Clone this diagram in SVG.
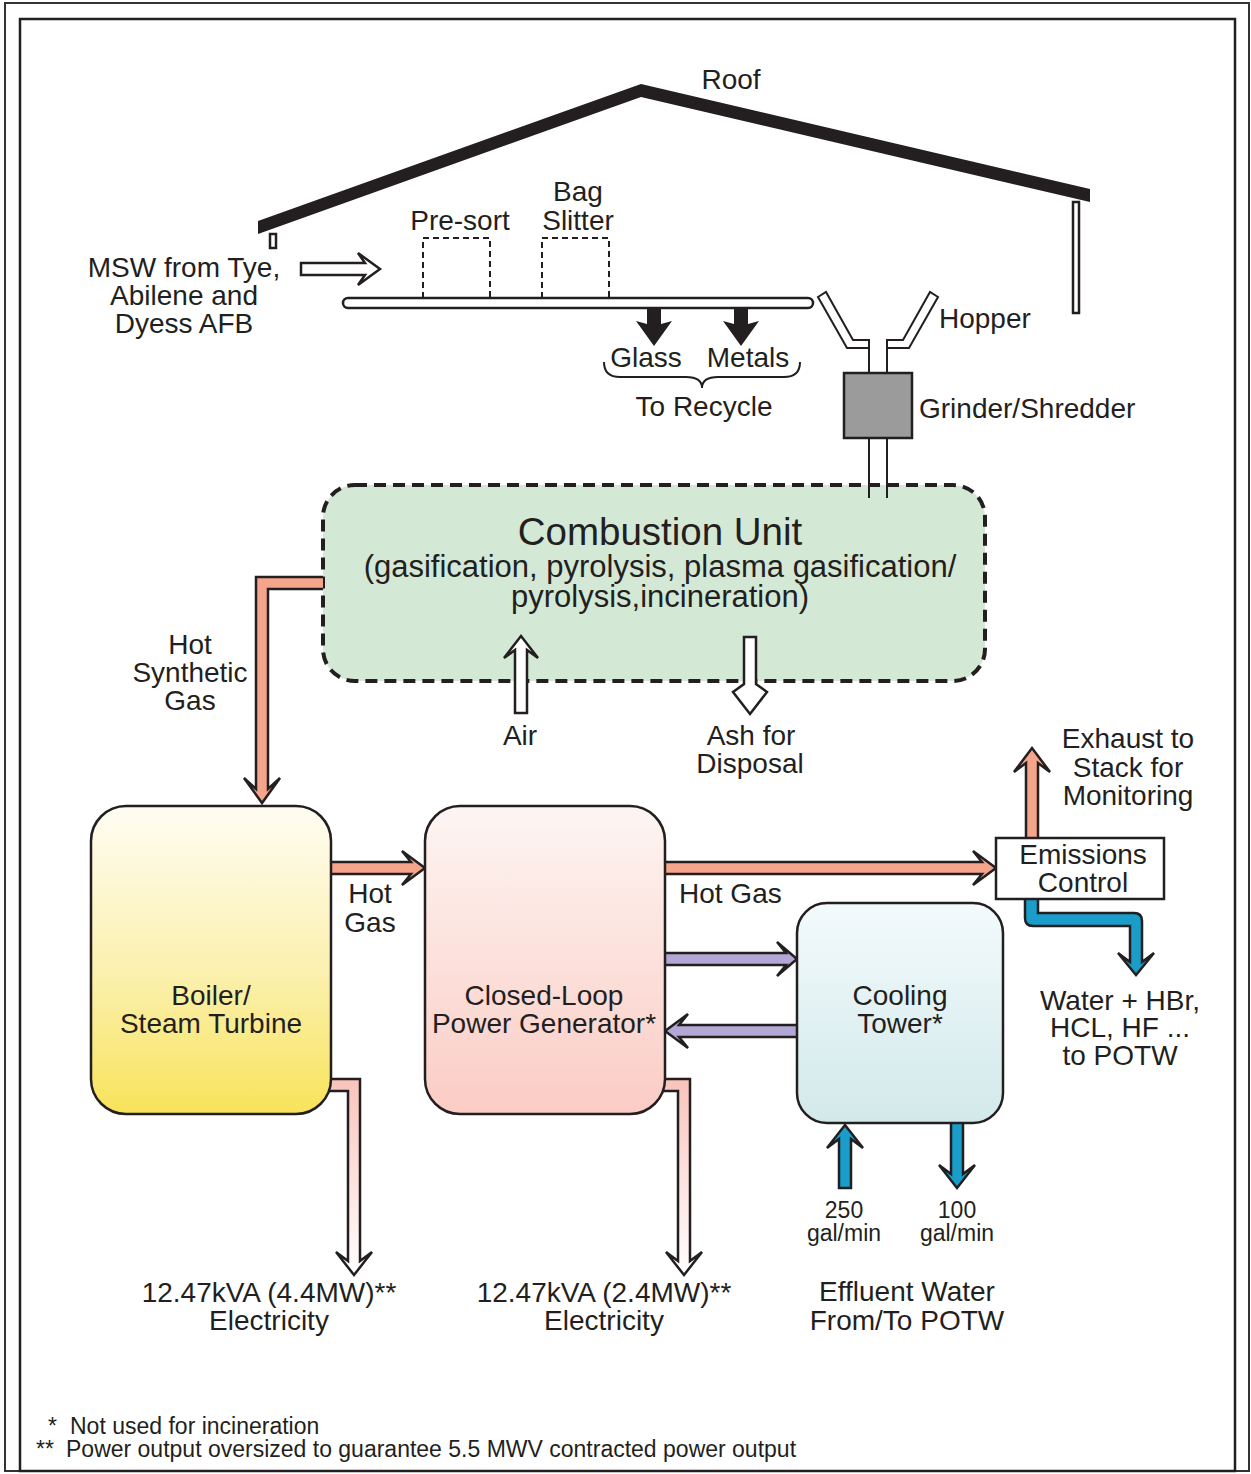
<svg xmlns="http://www.w3.org/2000/svg" width="1251" height="1474" viewBox="0 0 1251 1474">
<defs>
<style>
.t{font-family:"Liberation Sans",Arial,Helvetica,sans-serif;font-size:28px;fill:#231f20;text-anchor:middle}
.s{font-size:23px}
.l{text-anchor:start}
.o{stroke:#231f20;stroke-width:2.5;stroke-linejoin:miter}
.ln{stroke:#231f20;stroke-width:2;fill:none}
.salmon{fill:#f5a58b}
.purple{fill:#b3a7d6}
.blue{fill:#1a9dc9}
.wh{fill:#ffffff}
.dash{fill:none;stroke:#231f20;stroke-width:2;stroke-dasharray:6 4}
</style>
<linearGradient id="gBoiler" x1="0" y1="0" x2="0" y2="1"><stop offset="0" stop-color="#fffdf3"/><stop offset="0.55" stop-color="#fbf0ad"/><stop offset="1" stop-color="#f8e35a"/></linearGradient>
<linearGradient id="gClpg" x1="0" y1="0" x2="0" y2="1"><stop offset="0" stop-color="#fdf5f2"/><stop offset="1" stop-color="#fbccc5"/></linearGradient>
<linearGradient id="gCT" x1="0" y1="0" x2="0" y2="1"><stop offset="0" stop-color="#f3fafc"/><stop offset="1" stop-color="#d2e9ea"/></linearGradient>
<linearGradient id="gElec" gradientUnits="userSpaceOnUse" x1="0" y1="1079" x2="0" y2="1275"><stop offset="0" stop-color="#f9c4bc"/><stop offset="1" stop-color="#ffffff"/></linearGradient>
</defs>
<rect x="0" y="0" width="1251" height="1474" fill="#ffffff"/>
<g id="frame">
<rect x="5" y="3" width="1244" height="1468" fill="none" stroke="#333333" stroke-width="2"/>
<rect x="20" y="19" width="1215" height="1452" fill="none" stroke="#231f20" stroke-width="2.5"/>
</g>
<g id="roof">
<polygon points="258,221 641,84 1090,189 1090,202 641,97 258,234" fill="#231f20"/>
<rect x="270" y="234" width="6" height="14" class="wh o" stroke-width="1.5"/>
<rect x="1073" y="202" width="6" height="111" class="wh o" stroke-width="1.5"/>
<text class="t" x="731" y="89">Roof</text>
</g>
<g id="msw-source">
<text class="t" x="184" y="277">MSW from Tye,</text>
<text class="t" x="184" y="305">Abilene and</text>
<text class="t" x="184" y="333">Dyess AFB</text>
</g>
<g id="conveyor">
<rect x="343" y="298" width="470" height="10" rx="5" class="wh o" stroke-width="2"/>
</g>
<g id="pre-sort">
<polyline points="423,298 423,238 490,238 490,298" class="dash"/>
<text class="t" x="460" y="230">Pre-sort</text>
</g>
<g id="bag-slitter">
<polyline points="542,298 542,238 609,238 609,298" class="dash"/>
<text class="t" x="578" y="201">Bag</text>
<text class="t" x="578" y="230">Slitter</text>
</g>
<g id="recycle">
<path d="M604,362 Q604,377 620,377 L686,377 Q702,377 702,388 Q702,377 718,377 L784,377 Q800,377 800,362" class="ln" stroke-width="2.5"/>
<text class="t" x="646" y="367">Glass</text>
<text class="t" x="748" y="367">Metals</text>
<text class="t" x="704" y="416">To Recycle</text>
</g>
<g id="combustion-unit">
<rect x="323" y="485" width="662" height="196" rx="32" fill="#d4e8d6" stroke="#231f20" stroke-width="4" stroke-dasharray="12 7"/>
<text class="t" x="660" y="545" style="font-size:38.5px">Combustion Unit</text>
<text class="t" x="660" y="577" style="font-size:31px">(gasification, pyrolysis, plasma gasification/</text>
<text class="t" x="660" y="607" style="font-size:31px">pyrolysis,incineration)</text>
</g>
<g id="hopper-grinder">
<polygon points="818,297 826,292 853,340 869,340 869,348 847,348" class="wh ln"/>
<polygon points="938,297 930,292 903,340 887,340 887,348 909,348" class="wh ln"/>
<line x1="869" y1="340" x2="869" y2="373" class="ln"/>
<line x1="887" y1="340" x2="887" y2="373" class="ln"/>
<rect x="844" y="373" width="68" height="65" fill="#9b9b9b" stroke="#231f20" stroke-width="2.5"/>
<line x1="869" y1="438" x2="869" y2="498" class="ln"/>
<line x1="887" y1="438" x2="887" y2="498" class="ln"/>
<text class="t l" x="939" y="328">Hopper</text>
<text class="t l" x="919" y="418">Grinder/Shredder</text>
</g>
<g id="connectors">
<path d="M301,263 L365,263 L358,253 L380,269 L358,285 L365,275 L301,275 Z" class="wh o"/>
<path d="M647,308 L661,308 L661,324 L672,321 L654,346 L636,321 L647,324 Z" fill="#231f20"/>
<path d="M734,308 L748,308 L748,324 L759,321 L741,346 L723,321 L734,324 Z" fill="#231f20"/>
<path d="M323,577 L256,577 L256,789 L244,778 L262,803 L280,778 L268,789 L268,589 L323,589" class="salmon o"/>
<path d="M515,713 L515,650 L504,658 L521,636 L538,658 L527,650 L527,713 Z" class="wh o"/>
<path d="M744,637 L744,684 L733,692 L750,714 L767,692 L756,684 L756,637 Z" class="wh o"/>
<path d="M328,862 L411,862 L402,851 L425,868 L402,885 L411,874 L328,874" class="salmon o"/>
<path d="M662,862 L982,862 L973,851 L996,868 L973,885 L982,874 L662,874" class="salmon o"/>
<path d="M1026,838 L1026,763 L1014,772 L1032,748 L1050,772 L1038,763 L1038,838" class="salmon o"/>
<path d="M1025,899 L1025,918 Q1025,926 1033,926 L1130,926 L1130,962 L1118,953 L1136,975 L1154,953 L1142,962 L1142,921 Q1142,913 1134,913 L1038,913 L1038,899" class="blue o"/>
<path d="M662,953 L786,953 L777,942 L797,959 L777,976 L786,965 L662,965" class="purple o"/>
<path d="M800,1025 L679,1025 L688,1014 L665,1031 L688,1048 L679,1037 L800,1037" class="purple o"/>
<path d="M839,1188 L839,1139 L827,1148 L845,1125 L863,1148 L851,1139 L851,1188 Z" class="blue o"/>
<path d="M951,1120 L951,1174 L939,1165 L957,1188 L975,1165 L963,1174 L963,1120" class="blue o"/>
<path d="M328,1079 L360,1079 L360,1261 L372,1252 L354,1275 L336,1252 L348,1261 L348,1091 L328,1091" fill="url(#gElec)" class="o"/>
<path d="M662,1079 L690,1079 L690,1261 L702,1252 L684,1275 L666,1252 L678,1261 L678,1091 L662,1091" fill="url(#gElec)" class="o"/>
<text class="t" x="190" y="654">Hot</text>
<text class="t" x="190" y="682">Synthetic</text>
<text class="t" x="190" y="710">Gas</text>
<text class="t" x="520" y="745">Air</text>
<text class="t" x="751" y="745">Ash for</text>
<text class="t" x="750" y="773">Disposal</text>
<text class="t" x="370" y="903">Hot</text>
<text class="t" x="370" y="932">Gas</text>
<text class="t l" x="679" y="903">Hot Gas</text>
<text class="t" x="1128" y="748">Exhaust to</text>
<text class="t" x="1128" y="777">Stack for</text>
<text class="t" x="1128" y="805">Monitoring</text>
<text class="t" x="1120" y="1010">Water + HBr,</text>
<text class="t" x="1120" y="1037">HCL, HF ...</text>
<text class="t" x="1120" y="1065">to POTW</text>
<text class="t s" x="844" y="1218">250</text>
<text class="t s" x="844" y="1241">gal/min</text>
<text class="t s" x="957" y="1218">100</text>
<text class="t s" x="957" y="1241">gal/min</text>
<text class="t" x="269" y="1302">12.47kVA (4.4MW)**</text>
<text class="t" x="269" y="1330">Electricity</text>
<text class="t" x="604" y="1302">12.47kVA (2.4MW)**</text>
<text class="t" x="604" y="1330">Electricity</text>
<text class="t" x="907" y="1301">Effluent Water</text>
<text class="t" x="907" y="1330">From/To POTW</text>
</g>
<g id="boiler">
<rect x="91" y="806" width="240" height="308" rx="35" fill="url(#gBoiler)" class="o"/>
<text class="t" x="211" y="1005">Boiler/</text>
<text class="t" x="211" y="1033">Steam Turbine</text>
</g>
<g id="power-generator">
<rect x="425" y="806" width="240" height="308" rx="35" fill="url(#gClpg)" class="o"/>
<text class="t" x="544" y="1005">Closed-Loop</text>
<text class="t" x="544" y="1033">Power Generator*</text>
</g>
<g id="cooling-tower">
<rect x="797" y="903" width="206" height="220" rx="30" fill="url(#gCT)" class="o"/>
<text class="t" x="900" y="1005">Cooling</text>
<text class="t" x="900" y="1033">Tower*</text>
</g>
<g id="emissions-control">
<rect x="996" y="838" width="168" height="61" class="wh o"/>
<text class="t" x="1083" y="864">Emissions</text>
<text class="t" x="1083" y="892">Control</text>
</g>
<g id="footnotes">
<text class="t s l" x="48" y="1434">*</text>
<text class="t s l" x="70" y="1434">Not used for incineration</text>
<text class="t s l" x="36" y="1457">**</text>
<text class="t s l" x="66" y="1457">Power output oversized to guarantee 5.5 MWV contracted power output</text>
</g>
</svg>
